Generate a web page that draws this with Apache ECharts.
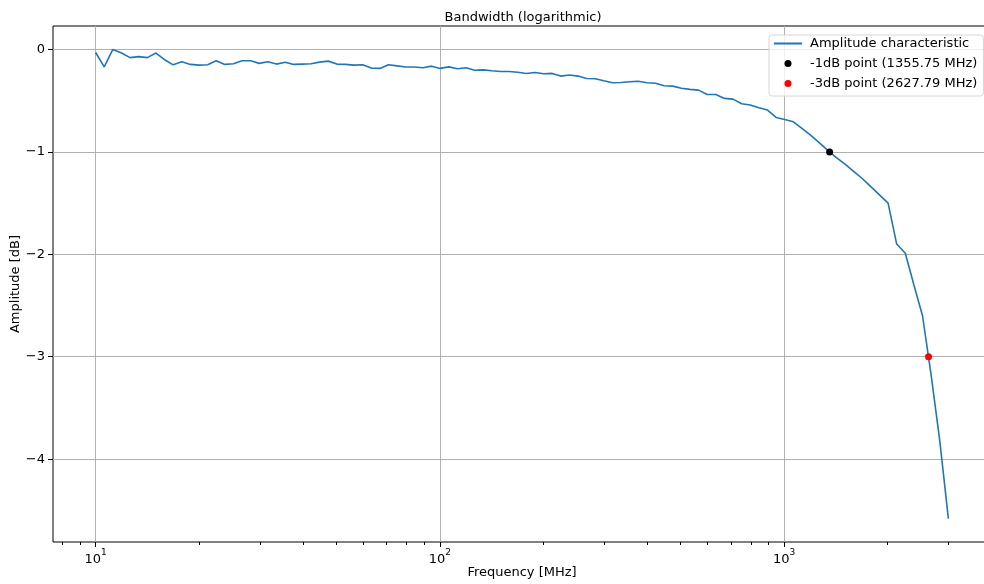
<!DOCTYPE html>
<html>
<head>
<meta charset="utf-8">
<title>Bandwidth (logarithmic)</title>
<script src="https://cdn.jsdelivr.net/npm/echarts@6/dist/echarts.min.js"></script>
<style>
  html, body { margin: 0; padding: 0; background: #ffffff; }
  #chart { width: 984px; height: 584px; }
</style>
</head>
<body>
<div id="chart"></div>
<script>
// Measured frequency sweep (MHz), log-spaced
const frequencyMHz = [
  10.00, 10.59, 11.22, 11.89, 12.59, 13.34, 14.13, 14.97, 15.86, 16.80,
  17.79, 18.85, 19.96, 21.15, 22.40, 23.73, 25.14, 26.63, 28.21, 29.88,
  31.65, 33.53, 35.52, 37.63, 39.86, 42.22, 44.73, 47.38, 50.19, 53.16,
  56.32, 59.66, 63.20, 66.94, 70.91, 75.12, 79.57, 84.29, 89.29, 94.59,
  100.20, 106.14, 112.44, 119.11, 126.17, 133.65, 141.58, 149.97, 158.87, 168.29,
  178.27, 188.85, 200.04, 211.91, 224.48, 237.79, 251.89, 266.83, 282.65, 299.42,
  317.18, 335.99, 355.91, 377.02, 399.38, 423.07, 448.16, 474.74, 502.89, 532.72,
  564.31, 597.78, 633.23, 670.79, 710.57, 752.71, 797.35, 844.64, 894.73, 947.80,
  1003.95, 1063.5, 1126.6, 1193.4, 1264.2, 1339.1, 1418.6, 1502.7, 1591.8, 1686.2,
  1786.2, 1892.2, 2004.4, 2123.3, 2249.2, 2382.6, 2523.9, 2673.6, 2832.1, 3000.0
];

// Amplitude response (dB)
const amplitudeDb = [
  -0.030, -0.170, 0.000, -0.035, -0.080, -0.070, -0.080, -0.035, -0.100, -0.150,
  -0.120, -0.146, -0.153, -0.150, -0.110, -0.146, -0.140, -0.110, -0.110, -0.136,
  -0.120, -0.143, -0.125, -0.146, -0.143, -0.140, -0.124, -0.114, -0.143, -0.146,
  -0.153, -0.150, -0.182, -0.185, -0.150, -0.160, -0.172, -0.172, -0.179, -0.163,
  -0.185, -0.170, -0.189, -0.179, -0.203, -0.199, -0.208, -0.215, -0.215, -0.222,
  -0.235, -0.225, -0.237, -0.234, -0.260, -0.250, -0.260, -0.283, -0.286, -0.306,
  -0.325, -0.322, -0.316, -0.310, -0.325, -0.330, -0.355, -0.358, -0.378, -0.390,
  -0.397, -0.440, -0.440, -0.478, -0.485, -0.530, -0.543, -0.570, -0.592, -0.664,
  -0.683, -0.706, -0.771, -0.836, -0.910, -0.985, -1.056, -1.120, -1.190, -1.260,
  -1.340, -1.420, -1.500, -1.900, -1.990, -2.300, -2.600, -3.180, -3.820, -4.580
];

// Cut-off points
const cutoffLevelsDb = [-1, -3];
const cutoffFreqsMHz = [1355.75, 2627.79];
const cutoffColors = ['#000000', '#ff0000'];

// Axis ticks
const xMajorTicks = [10, 100, 1000];
const yTicks = [0, -1, -2, -3, -4];

const FONT = 'DejaVu Sans';

// Axis limits with a 5% margin (log space for frequency)
const logF = frequencyMHz.map(Math.log10).concat(cutoffFreqsMHz.map(Math.log10));
const lfMin = Math.min(...logF), lfMax = Math.max(...logF);
const lfPad = 0.05 * (lfMax - lfMin);
const xMin = Math.pow(10, lfMin - lfPad);
const xMax = Math.pow(10, lfMax + lfPad);
const allY = amplitudeDb.concat(cutoffLevelsDb);
const yLo = Math.min(...allY), yHi = Math.max(...allY);
const yPad = 0.05 * (yHi - yLo);
const yMin = yLo - yPad, yMax = yHi + yPad;

// Minor ticks at 2..9 of each decade
const xMinorTicks = [];
for (let d = 1; d <= 1000; d *= 10) {
  for (let k = 2; k <= 9; k++) {
    const v = k * d;
    if (v >= xMin && v <= xMax) xMinorTicks.push(v);
  }
}

const cutoffNames = cutoffLevelsDb.map((lv, i) =>
  lv + 'dB point (' + cutoffFreqsMHz[i].toFixed(2) + ' MHz)');

const series = [{
  type: 'line',
  name: 'Amplitude characteristic',
  xAxisIndex: 0,
  data: frequencyMHz.map((f, i) => [f, amplitudeDb[i]]),
  symbol: 'none',
  showSymbol: false,
  lineStyle: { color: '#1f77b4', width: 1.6 },
  itemStyle: { color: '#1f77b4' },
  z: 2
}];
cutoffNames.forEach((name, i) => {
  series.push({
    type: 'scatter',
    name: name,
    xAxisIndex: 0,
    data: [[cutoffFreqsMHz[i], cutoffLevelsDb[i]]],
    symbol: 'circle',
    symbolSize: 7,
    itemStyle: { color: cutoffColors[i], opacity: 1 },
    z: 3
  });
});

const chart = echarts.init(document.getElementById('chart'), null, { renderer: 'canvas' });
chart.setOption({
  animation: false,
  backgroundColor: '#ffffff',
  textStyle: { fontFamily: FONT },
  title: {
    text: 'Bandwidth (logarithmic)',
    left: 518,
    textAlign: 'center',
    top: 6,
    textStyle: { fontFamily: FONT, fontSize: 13, fontWeight: 'normal', color: '#000' }
  },
  legend: {
    orient: 'vertical',
    left: 769,
    top: 35,
    data: [
      { name: 'Amplitude characteristic', itemStyle: { opacity: 0 } },
      { name: cutoffNames[0], icon: 'circle' },
      { name: cutoffNames[1], icon: 'circle' }
    ],
    itemWidth: 28,
    itemHeight: 7,
    itemGap: 7,
    padding: [2, 6, 6, 4],
    textStyle: { fontFamily: FONT, fontSize: 13, color: '#000', padding: [0, 0, 0, 3] },
    backgroundColor: 'rgba(255,255,255,0.8)',
    borderColor: '#d6d6d6',
    borderWidth: 1,
    borderRadius: 3
  },
  grid: {
    left: 53, right: -7, top: 26, bottom: 42,
    containLabel: false,
    outerBoundsMode: 'none',
    show: true,
    borderColor: '#000',
    borderWidth: 1,
    backgroundColor: '#ffffff'
  },
  xAxis: [{
    type: 'log',
    logBase: 10,
    min: xMin,
    max: xMax,
    position: 'bottom',
    axisLine: { show: false, onZero: false },
    axisTick: { show: true, customValues: xMajorTicks, length: 5, lineStyle: { color: '#000', width: 1 } },
    axisLabel: {
      customValues: xMajorTicks,
      margin: 6,
      color: '#000',
      fontFamily: FONT,
      formatter: v => '{b|10}{s|' + Math.round(Math.log10(v)) + '}',
      rich: {
        b: { fontFamily: FONT, fontSize: 13, color: '#000', verticalAlign: 'bottom', lineHeight: 18 },
        s: { fontFamily: FONT, fontSize: 9, color: '#000', verticalAlign: 'top', lineHeight: 18 }
      }
    },
    splitLine: { show: true, lineStyle: { color: '#b0b0b0', width: 1 } },
    name: 'Frequency [MHz]',
    nameLocation: 'middle',
    nameGap: 24,
    nameMoveOverlap: false,
    nameTextStyle: { fontFamily: FONT, fontSize: 13, color: '#000' }
  }, {
    type: 'log',
    logBase: 10,
    min: xMin,
    max: xMax,
    position: 'bottom',
    axisLine: { show: false, onZero: false },
    axisLabel: { show: false },
    splitLine: { show: false },
    axisTick: { show: true, customValues: xMinorTicks, length: 3, lineStyle: { color: '#000', width: 1 } }
  }],
  yAxis: {
    type: 'value',
    min: yMin,
    max: yMax,
    axisLine: { show: false, onZero: false },
    axisTick: { show: true, customValues: yTicks, length: 5, lineStyle: { color: '#000', width: 1 } },
    axisLabel: {
      customValues: yTicks,
      margin: 8,
      color: '#000',
      fontFamily: FONT,
      fontSize: 13,
      formatter: v => String(v).replace('-', '\u2212')
    },
    splitLine: { show: true, lineStyle: { color: '#b0b0b0', width: 1 } },
    name: 'Amplitude [dB]',
    nameLocation: 'middle',
    nameGap: 31,
    nameMoveOverlap: false,
    nameRotate: 90,
    nameTextStyle: { fontFamily: FONT, fontSize: 13, color: '#000' }
  },
  series: series
});
</script>
</body>
</html>
